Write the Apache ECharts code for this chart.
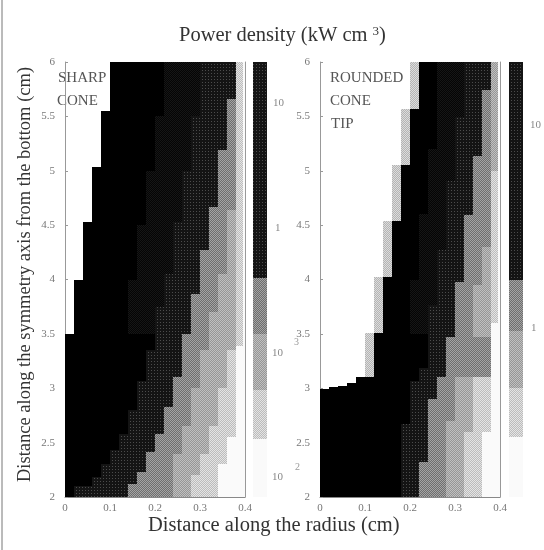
<!DOCTYPE html>
<html><head><meta charset="utf-8">
<style>html,body{margin:0;padding:0;background:#fff}#c{width:544px;height:550px}</style>
<script src="https://cdn.jsdelivr.net/npm/echarts@6/dist/echarts.min.js"></script>
</head><body><div id="c"></div>
<script>
// Each list: [height from which the step applies, radius where the band starts]
const leftEdge   = [[2,0],[3.5,0.02],[4,0.04],[4.53,0.06],[5.03,0.08],[5.55,0.10]];
const leftFaint  = [[3.5,0.14],[4,0.16],[4.5,0.18],[5,0.20],[5.5,0.22]];
const leftDark   = [[2,0.02],[2.1,0.06],[2.18,0.08],[2.3,0.10],[2.43,0.12],[2.58,0.14],[2.8,0.16],[3.07,0.18],[3.35,0.20],[3.75,0.22],[4.05,0.24],[4.53,0.26],[5.0,0.28],[5.5,0.30]];
const leftMid    = [[2,0.14],[2.12,0.16],[2.23,0.18],[2.41,0.20],[2.58,0.22],[2.83,0.24],[3.1,0.26],[3.5,0.28],[3.87,0.30],[4.27,0.32],[4.67,0.34],[5.19,0.36],[5.66,0.38]];
const leftPale   = [[2,0.24],[2.4,0.26],[2.65,0.28],[3.0,0.30],[3.35,0.32],[3.7,0.34],[4.05,0.36],[4.64,0.38]];
const leftLight  = [[2,0.28],[2.2,0.30],[2.4,0.32],[2.65,0.34],[3.0,0.36],[3.35,0.38]];
const leftBlank  = [[2,0.34],[2.3,0.36],[2.55,0.38],[3.39,0.395]];

const rightRim   = [[2,0],[2.99,0.02],[3.01,0.04],[3.02,0.06],[3.05,0.08],[3.1,0.10],[3.51,0.12],[4.02,0.14],[4.54,0.16],[5.05,0.18],[5.57,0.20]];
const rightEdge  = [[2,0],[2.99,0.02],[3.01,0.04],[3.02,0.06],[3.05,0.08],[3.1,0.12],[3.51,0.14],[4.02,0.16],[4.54,0.18],[5.05,0.20],[5.57,0.22]];
const rightFaint = [[3.5,0.20],[4,0.22],[4.6,0.24],[5.2,0.26]];
const rightDark  = [[2,0.18],[2.67,0.20],[3.07,0.22],[3.19,0.24],[3.77,0.26],[4.27,0.28],[4.91,0.30],[5.49,0.32]];
const rightMid   = [[2,0.22],[2.32,0.24],[2.9,0.26],[3.1,0.28],[3.47,0.30],[3.98,0.32],[4.59,0.34],[5.14,0.36],[5.74,0.38]];
const rightPale  = [[2,0.28],[2.7,0.30],[3.1,0.38],[3.47,0.34],[3.95,0.36],[4.3,0.38]];
const rightLight = [[2,0.32],[2.6,0.34],[3.1,0.38],[5.0,0.40]];
const rightBlank = [[2,0.36],[2.6,0.38],[3.6,0.395]];

const leftKey  = [[4.01,6],[3.5,4.01],[2.98,3.5],[2.53,2.98],[2,2.53]];
const rightKey = [[4.0,6],[3.53,4.0],[3.0,3.53],[2.55,3.0],[2,2.55]];
const keyLevels = ['dark','mid','pale','light','blank'];
const xTicks = [0,0.4,0.1];
const yTicks = [2,6,0.5];

const fills = {};
function checker(a,b,dot){
  const n = dot?3:2, c=document.createElement('canvas');c.width=c.height=n;
  const g=c.getContext('2d');g.fillStyle=a;g.fillRect(0,0,n,n);g.fillStyle=b;
  if(dot){g.fillRect(1,1,1,1);}else{g.fillRect(0,0,1,1);g.fillRect(1,1,1,1);}
  return {image:c,repeat:'repeat'};
}
fills.rim   = checker('#b4b4b4','#dcdcdc');
fills.edge  = '#000000';
fills.faint = checker('#050505','#161616');
fills.dark  = checker('#141414','#4c4c4c',true);
fills.mid   = checker('#6e6e6e','#a4a4a4');
fills.pale  = checker('#969696','#c0c0c0');
fills.light = checker('#bcbcbc','#e4e4e4');
fills.blank = '#fafafa';

function rows(list,level){
  return list.map((s,i)=>[s[1],s[0],i+1<list.length?list[i+1][0]:6,level]);
}
const levelIndex = ['rim','edge','faint','dark','mid','pale','light','blank'];
function panelData(groups){
  let out=[];groups.forEach(g=>{out=out.concat(rows(g[0],levelIndex.indexOf(g[1])));});return out;
}
function box(a,b,level){
  const x=Math.round(a[0]),y=Math.round(a[1]),r=Math.round(b[0]),t=Math.round(b[1]);
  return {type:'rect',shape:{x:x,y:y,width:r-x,height:t-y},style:{fill:fills[levelIndex[level]]}};
}
const renderBand = (p,api)=>box(api.coord([api.value(0),api.value(2)]),api.coord([0.4,api.value(1)]),api.value(3));
const renderKey = (p,api)=>box(api.coord([0,api.value(1)]),api.coord([1,api.value(0)]),api.value(2));
const SERIF='"Liberation Serif","DejaVu Serif",serif';
const tickLabel={fontFamily:SERIF,fontSize:11,color:'#777'};
function xAx(i){return {type:'value',gridIndex:i,min:xTicks[0],max:xTicks[1],interval:xTicks[2],
  splitLine:{show:false},axisLine:{lineStyle:{color:'#888'}},axisTick:{show:false},
  axisLabel:Object.assign({margin:6},tickLabel)};}
function yAx(i){return {type:'value',gridIndex:i,min:yTicks[0],max:yTicks[1],interval:yTicks[2],
  splitLine:{show:false},axisLine:{show:true,lineStyle:{color:'#999'}},
  axisTick:{show:true,inside:true,length:3,lineStyle:{color:'#999'}},
  axisLabel:Object.assign({margin:10},tickLabel)};}
function yEdge(i){return {type:'value',gridIndex:i,min:yTicks[0],max:yTicks[1],position:'right',
  splitLine:{show:false},axisLine:{show:true,lineStyle:{color:'#999'}},axisTick:{show:false},axisLabel:{show:false}};}
function keyX(i){return {type:'value',gridIndex:i,min:0,max:1,show:false};}
function keyY(i){return {type:'value',gridIndex:i,min:2,max:6,show:false};}
function txt(t,x,y,size,color,extra){
  return Object.assign({type:'text',x:x,y:y,style:{text:t,fontFamily:SERIF,fontSize:size,fill:color,textVerticalAlign:'middle'}},extra||{});
}
const chart=echarts.init(document.getElementById('c'),null,{renderer:'canvas'});
chart.setOption({
  animation:false,backgroundColor:'#fff',
  title:{text:'Power density (kW cm {s|3})',left:174,top:20,
    textStyle:{fontFamily:SERIF,fontSize:20.5,fontWeight:'normal',color:'#333',
      rich:{s:{fontFamily:SERIF,fontSize:13,color:'#333',verticalAlign:'top',padding:[0,0,9,0]}}}},
  grid:[
    {left:65,top:62,width:180,height:435},
    {left:320,top:62,width:180,height:435},
    {left:253,top:62,width:14,height:435},
    {left:509,top:62,width:14,height:435}],
  xAxis:[xAx(0),xAx(1),keyX(2),keyX(3)],
  yAxis:[yAx(0),yAx(1),keyY(2),keyY(3),yEdge(0),yEdge(1)],
  series:[
    {type:'custom',xAxisIndex:0,yAxisIndex:0,renderItem:renderBand,clip:true,encode:{x:0,y:[1,2]},
      data:panelData([[leftEdge,'edge'],[leftFaint,'faint'],[leftDark,'dark'],[leftMid,'mid'],[leftPale,'pale'],[leftLight,'light'],[leftBlank,'blank']])},
    {type:'custom',xAxisIndex:1,yAxisIndex:1,renderItem:renderBand,clip:true,encode:{x:0,y:[1,2]},
      data:panelData([[rightRim,'rim'],[rightEdge,'edge'],[rightFaint,'faint'],[rightDark,'dark'],[rightMid,'mid'],[rightPale,'pale'],[rightLight,'light'],[rightBlank,'blank']])},
    {type:'custom',xAxisIndex:2,yAxisIndex:2,renderItem:renderKey,encode:{y:[0,1]},
      data:leftKey.map((k,i)=>[k[0],k[1],levelIndex.indexOf(keyLevels[i])])},
    {type:'custom',xAxisIndex:3,yAxisIndex:3,renderItem:renderKey,encode:{y:[0,1]},
      data:rightKey.map((k,i)=>[k[0],k[1],levelIndex.indexOf(keyLevels[i])])}
  ],
  graphic:[
    {type:'line',shape:{x1:2,y1:0,x2:2,y2:550},style:{stroke:'#777',lineWidth:1}},
    txt('Distance along the radius (cm)',148,526,20.5,'#333'),
    txt('Distance along the symmetry axis from the bottom (cm)',25,274.5,18.5,'#333',
      {rotation:Math.PI/2,style:{text:'Distance along the symmetry axis from the bottom (cm)',fontFamily:SERIF,fontSize:18.5,fill:'#333',textAlign:'center',textVerticalAlign:'middle'}}),
    txt('SHARP',58,78,15,'#555'),txt('CONE',57,101,15,'#555'),
    txt('ROUNDED',330,78,15,'#555'),txt('CONE',330,101,15,'#555'),txt('TIP',331,124,15,'#555'),
    txt('10',273,103,11,'#888'),txt('1',275,228,11,'#888'),txt('10',272,353,11,'#888'),txt('10',272,477,11,'#888'),
    txt('10',530,125,11,'#888'),txt('1',531,328,11,'#888'),
    txt('2',295,467,10,'#999'),txt('3',294,342,10,'#999')
  ]
});
</script></body></html>
